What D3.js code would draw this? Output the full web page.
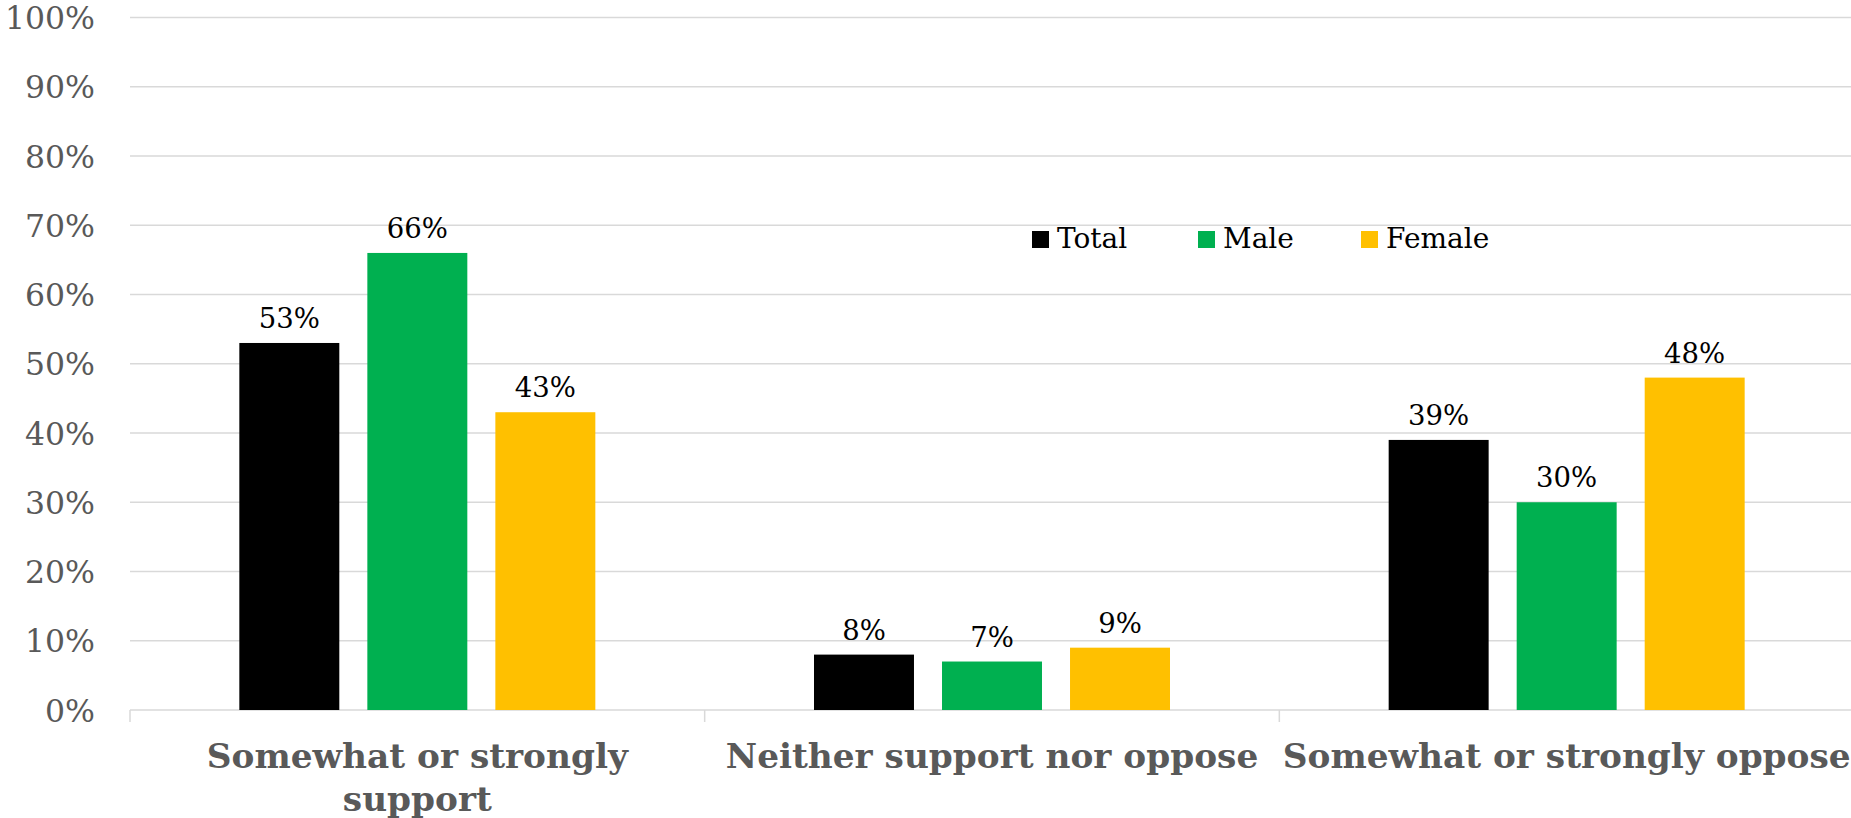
<!DOCTYPE html>
<html>
<head>
<meta charset="utf-8">
<script src="https://cdn.jsdelivr.net/npm/d3@7"></script>
<style>
  html, body { margin: 0; padding: 0; background: #fff; }
  svg { display: block; }
</style>
</head>
<body>
<svg id="chart" width="1851" height="818"></svg>
<script>
const categories = [["Somewhat or strongly", "support"], ["Neither support nor oppose"], ["Somewhat or strongly oppose"]];
const seriesNames = ["Total", "Male", "Female"];
const totalValues = [0.53, 0.08, 0.39];
const maleValues = [0.66, 0.07, 0.30];
const femaleValues = [0.43, 0.09, 0.48];
const seriesColors = ["#000000", "#00b050", "#ffc000"];
const yTicks = [0, 0.1, 0.2, 0.3, 0.4, 0.5, 0.6, 0.7, 0.8, 0.9, 1.0];

const seriesValues = [totalValues, maleValues, femaleValues];
const catKeys = categories.map((c, i) => i);

const svg = d3.select("#chart");
const FONT = "'DejaVu Serif', Georgia, serif";

const y = d3.scaleLinear().domain([0, 1]).range([710, 17.5]);
const x0 = d3.scaleBand().domain(catKeys).range([130, 1854]).paddingInner(0).paddingOuter(0);
const groupW = 356;
const x1 = d3.scaleBand().domain(seriesNames).range([0, groupW]).paddingInner(0.219).paddingOuter(0);

// gridlines
svg.append("g").selectAll("line").data(yTicks.filter(t => t > 0)).join("line")
  .attr("x1", 130).attr("x2", 1851)
  .attr("y1", d => y(d)).attr("y2", d => y(d))
  .attr("stroke", "#d9d9d9").attr("stroke-width", 1.5);

// y axis labels
const yAxis = d3.axisLeft(y).tickValues(yTicks).tickFormat(d3.format(".0%")).tickSize(0).tickPadding(0);
const yg = svg.append("g").attr("transform", "translate(95,0)").call(yAxis);
yg.select(".domain").remove();
yg.selectAll("text").attr("font-family", FONT).attr("font-size", 31.5).attr("fill", "#595959").attr("dy", "0.35em");

// x axis
const xAxisG = svg.append("g");
xAxisG.append("line").attr("x1", 130).attr("x2", 1851).attr("y1", y(0)).attr("y2", y(0))
  .attr("stroke", "#d9d9d9").attr("stroke-width", 1.5);
const boundaries = catKeys.map(k => x0(k)).concat([x0(catKeys[catKeys.length - 1]) + x0.bandwidth()]);
xAxisG.selectAll("line.tick").data(boundaries).join("line").attr("class", "tick")
  .attr("x1", d => d).attr("x2", d => d).attr("y1", y(0)).attr("y2", y(0) + 12)
  .attr("stroke", "#d9d9d9").attr("stroke-width", 1.5);

// category labels
const catG = svg.append("g").selectAll("text").data(categories).join("text")
  .attr("x", (d, i) => x0(i) + x0.bandwidth() / 2)
  .attr("y", 768)
  .attr("text-anchor", "middle")
  .attr("font-family", FONT).attr("font-weight", "bold").attr("font-size", 34.3).attr("fill", "#595959");
catG.selectAll("tspan").data(d => d).join("tspan")
  .attr("x", function() { return d3.select(this.parentNode).attr("x"); })
  .attr("dy", (d, i) => i === 0 ? 0 : 43)
  .text(d => d);

// bars
const groups = svg.append("g").selectAll("g").data(catKeys).join("g")
  .attr("transform", k => `translate(${x0(k) + x0.bandwidth() / 2 - groupW / 2},0)`);
groups.selectAll("rect").data(k => seriesNames.map((s, j) => ({ s, j, v: seriesValues[j][k] }))).join("rect")
  .attr("x", d => x1(d.s)).attr("width", x1.bandwidth())
  .attr("y", d => y(d.v)).attr("height", d => y(0) - y(d.v))
  .attr("fill", d => seriesColors[d.j]);
groups.selectAll("text").data(k => seriesNames.map((s, j) => ({ s, j, v: seriesValues[j][k] }))).join("text")
  .attr("x", d => x1(d.s) + x1.bandwidth() / 2)
  .attr("y", d => y(d.v) - 15)
  .attr("text-anchor", "middle")
  .attr("font-family", FONT).attr("font-size", 27.5).attr("fill", "#000")
  .text(d => d3.format(".0%")(d.v));

// legend
const legendX = [1032, 1198, 1361];
const lg = svg.append("g").selectAll("g").data(seriesNames).join("g")
  .attr("transform", (d, i) => `translate(${legendX[i]},231)`);
lg.append("rect").attr("width", 17).attr("height", 17).attr("fill", (d, i) => seriesColors[i]);
lg.append("text").attr("x", 25).attr("y", 17)
  .attr("font-family", FONT).attr("font-size", 28).attr("fill", "#000")
  .text(d => d);
</script>
</body>
</html>
